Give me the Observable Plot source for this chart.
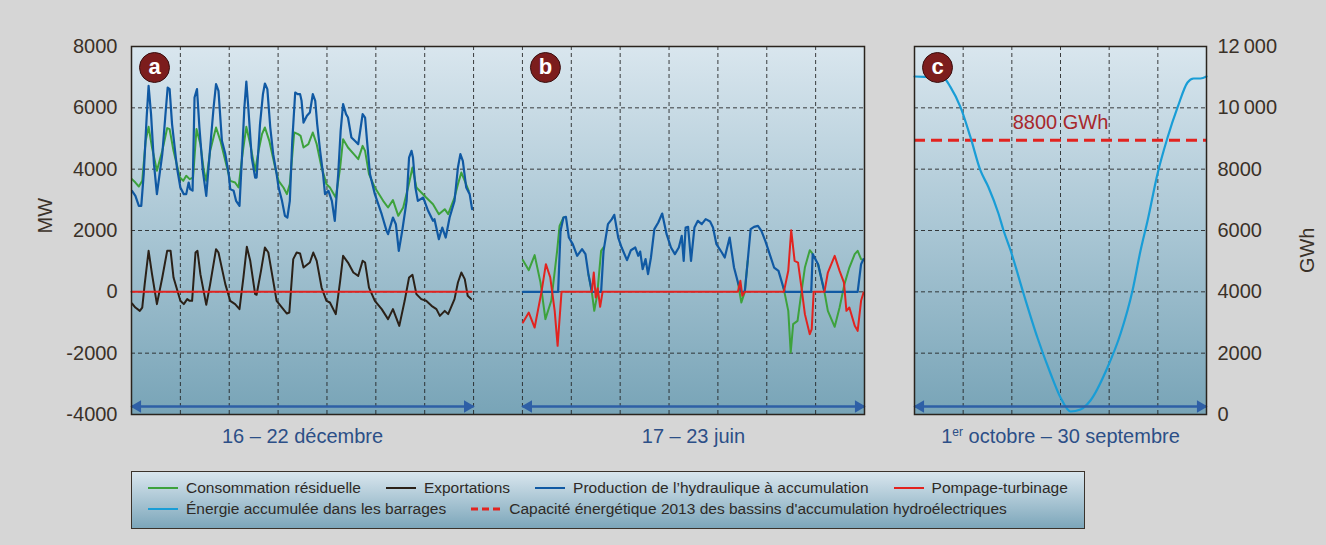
<!DOCTYPE html>
<html><head><meta charset="utf-8">
<script src="https://cdn.jsdelivr.net/npm/d3@7"></script>
<script src="https://cdn.jsdelivr.net/npm/@observablehq/plot@0.6"></script>
<style>
html,body{margin:0;padding:0;background:#d6d6d6;}
#wrap{position:relative;width:1326px;height:545px;background:#d6d6d6;font-family:"Liberation Sans",Arial,sans-serif;overflow:hidden}
#legend{position:absolute;left:131px;top:471px;width:952px;height:56px;border:1.5px solid #3a332c;background:linear-gradient(#d9e6ee,#7ca6ba);}
.row{position:absolute;left:16px;display:flex;gap:25px;font-size:15.5px;color:#2e2a26;white-space:nowrap;line-height:18px}
.row1{top:7px}.row2{top:28px}
.item{display:flex;align-items:center}
.item svg{margin-right:8px}
</style></head>
<body>
<svg width="0" height="0" style="position:absolute"><defs>
<linearGradient id="panelGrad" x1="0" y1="0" x2="0" y2="1"><stop offset="0" stop-color="#d9e6ee"/><stop offset="0.5" stop-color="#a9c6d4"/><stop offset="1" stop-color="#78a4b7"/></linearGradient>
</defs></svg>
<div id="wrap"><div id="legend"></div></div>
<script>
// ---------- DATA ----------
const yTicksMW = [-4000,-2000,0,2000,4000,6000,8000];
const yTicksGWh = [0,2000,4000,6000,8000,10000,12000];
const dayGrid = [1,2,3,4,5,6,7,8,9,10,11,12,13,14];
const monthGrid = [2,4,6,8,10];
const periodLabels = ["16 – 22 décembre", "17 – 23 juin"];
const periodCenters = [3.5, 11.5];
const periods = [{start:0,end:7},{start:8,end:15}];
const junOffset = 8;
const yearLabel = ["1", "er", " octobre – 30 septembre"];
const capacityGWh = 8940;
const capacityLabel = "8800 GWh";
const lettersLeft = [{x:0, letter:"a"},{x:8, letter:"b"}];
const lettersRight = [{x:0, letter:"c"}];

// December week (day, MW)
const decConso = [[0.01,3675],[0.08,3564],[0.15,3434],[0.22,3620],[0.29,4924],[0.35,5380],[0.42,4706],[0.52,3946],[0.63,4598],[0.73,5338],[0.78,5306],[0.86,4598],[0.99,3727],[1.06,3620],[1.12,3783],[1.19,3675],[1.26,3727],[1.33,5306],[1.41,4815],[1.48,3946],[1.53,3620],[1.61,4598],[1.73,5358],[1.82,4924],[1.92,4272],[2.02,3620],[2.12,3564],[2.19,3401],[2.28,4598],[2.35,5380],[2.43,4815],[2.53,3946],[2.60,4598],[2.67,5141],[2.73,5358],[2.82,4924],[2.94,4054],[3.01,3620],[3.11,3401],[3.18,3186],[3.24,3512],[3.33,5195],[3.41,5141],[3.46,5087],[3.52,4706],[3.62,4815],[3.71,5195],[3.79,4815],[3.89,4054],[3.99,3512],[4.06,3401],[4.18,3075],[4.27,4054],[4.33,4978],[4.43,4706],[4.55,4490],[4.64,4327],[4.73,4761],[4.78,4598],[4.86,3838],[4.98,3401],[5.15,2967],[5.25,2749],[5.35,2989],[5.46,2478],[5.56,2749],[5.66,3401],[5.75,4054],[5.83,3401],[5.93,3238],[6.03,3075],[6.17,2858],[6.29,2532],[6.41,2695],[6.48,2532],[6.61,3075],[6.68,3512],[6.75,3891],[6.82,3620],[6.90,3294]];
const decExport = [[0.01,-381],[0.08,-512],[0.17,-620],[0.22,-512],[0.27,251],[0.35,1337],[0.42,577],[0.52,-401],[0.63,466],[0.73,1337],[0.80,1337],[0.86,466],[1.00,-293],[1.07,-401],[1.14,-238],[1.19,-293],[1.24,-293],[1.31,1282],[1.35,1337],[1.41,577],[1.53,-424],[1.61,251],[1.73,1392],[1.78,1282],[1.92,251],[2.02,-293],[2.12,-401],[2.21,-564],[2.29,466],[2.36,1467],[2.43,1011],[2.53,-75],[2.56,-95],[2.65,685],[2.73,1445],[2.80,1282],[2.90,359],[2.97,-293],[3.08,-512],[3.18,-707],[3.23,-675],[3.31,1066],[3.38,1282],[3.45,1249],[3.52,793],[3.65,955],[3.72,1282],[3.79,1011],[3.89,140],[3.99,-293],[4.06,-348],[4.18,-727],[4.27,359],[4.33,1174],[4.43,955],[4.54,629],[4.64,522],[4.73,1011],[4.78,955],[4.86,140],[4.98,-293],[5.12,-564],[5.25,-890],[5.35,-564],[5.48,-1109],[5.59,-293],[5.68,466],[5.75,554],[5.83,-75],[5.93,-238],[6.03,-293],[6.14,-457],[6.24,-564],[6.31,-783],[6.41,-620],[6.48,-727],[6.61,-238],[6.68,303],[6.75,629],[6.82,414],[6.88,-130],[6.95,-238]];
const decProd = [[0.01,3294],[0.08,3130],[0.15,2804],[0.20,2804],[0.25,3838],[0.31,5684],[0.35,6718],[0.40,5795],[0.46,4164],[0.52,3186],[0.63,4490],[0.69,5684],[0.74,6662],[0.78,6610],[0.83,5469],[0.93,4054],[1.00,3401],[1.07,3186],[1.12,3186],[1.17,3564],[1.20,3349],[1.25,3300],[1.29,6336],[1.34,6610],[1.39,5358],[1.46,3946],[1.53,3130],[1.61,4706],[1.68,6010],[1.73,6773],[1.78,6555],[1.85,4924],[1.92,4490],[1.99,3838],[2.02,3349],[2.09,3294],[2.14,2967],[2.21,2804],[2.26,4380],[2.31,6010],[2.35,6858],[2.39,6010],[2.46,4380],[2.53,3727],[2.56,3727],[2.63,5469],[2.69,6447],[2.73,6793],[2.78,6610],[2.84,5358],[2.90,4490],[2.97,3838],[3.01,3401],[3.08,2967],[3.14,2478],[3.19,2423],[3.24,2967],[3.29,4924],[3.35,6499],[3.40,6447],[3.45,6447],[3.48,6228],[3.52,5520],[3.59,5739],[3.65,5846],[3.71,6447],[3.76,6228],[3.80,5469],[3.86,4598],[3.92,3838],[3.96,3186],[4.03,3294],[4.10,2967],[4.16,2315],[4.23,3838],[4.28,5250],[4.33,6121],[4.39,5795],[4.43,5684],[4.50,5032],[4.57,4924],[4.64,4815],[4.69,5358],[4.73,5795],[4.78,5684],[4.82,4924],[4.88,3838],[4.98,3186],[5.12,2532],[5.22,1989],[5.25,1880],[5.35,2423],[5.41,2206],[5.47,1337],[5.54,1989],[5.63,2967],[5.68,4380],[5.73,4598],[5.76,4380],[5.81,3401],[5.86,2967],[5.97,3075],[6.07,2641],[6.17,2315],[6.20,2370],[6.29,1718],[6.36,2097],[6.43,1771],[6.51,2423],[6.61,2967],[6.68,4054],[6.73,4490],[6.78,4272],[6.85,3401],[6.92,3186],[6.97,2695]];
const decPump = [[0,0],[6.96,0]];

// June week (day, MW)
const junConso = [[0.01,1033],[0.13,707],[0.25,1197],[0.37,300],[0.47,-890],[0.59,-293],[0.71,1337],[0.76,2152],[0.84,2423],[0.85,null],[1.35,577],[1.42,0],[1.47,-620],[1.53,-100],[1.61,1337],[1.66,1450],[1.67,null],[4.41,303],[4.48,-348],[4.55,0],[4.61,1011],[4.62,null],[5.33,196],[5.37,-75],[5.44,-620],[5.49,-1979],[5.54,-1054],[5.63,-946],[5.71,0],[5.78,793],[5.88,1358],[5.92,1282],[5.94,1229],[5.95,null],[6.05,902],[6.18,0],[6.25,-620],[6.39,-1141],[6.49,-512],[6.59,251],[6.69,793],[6.80,1229],[6.86,1337],[6.93,1066],[6.98,1033]];
const junProd = [[0.01,0],[0.73,0],[0.78,1989],[0.84,2423],[0.89,2445],[0.95,1771],[1.03,1554],[1.12,1174],[1.22,1392],[1.29,1229],[1.35,577],[1.42,0],[1.61,0],[1.66,1337],[1.75,2206],[1.83,2370],[1.88,2511],[1.96,1771],[2.03,1445],[2.14,1033],[2.22,1358],[2.31,1445],[2.37,1174],[2.41,1314],[2.46,740],[2.52,1066],[2.57,577],[2.63,1120],[2.70,2043],[2.78,2260],[2.86,2553],[2.95,1880],[3.04,1445],[3.12,1229],[3.20,1445],[3.26,1826],[3.30,1011],[3.34,2097],[3.39,2119],[3.45,1011],[3.52,2097],[3.59,2315],[3.67,2206],[3.75,2370],[3.84,2293],[3.90,2097],[3.97,1554],[4.08,1282],[4.14,1120],[4.24,1771],[4.33,793],[4.41,303],[4.48,0],[4.55,0],[4.61,1011],[4.67,2043],[4.74,2119],[4.82,2152],[4.89,1989],[4.97,1663],[5.06,1229],[5.15,793],[5.24,685],[5.33,196],[5.37,0],[5.91,0],[5.94,1229],[6.05,902],[6.18,0],[6.86,0],[6.93,902],[6.98,1066]];
const junPump = [[0.01,-1001],[0.13,-675],[0.25,-1164],[0.39,0],[0.48,902],[0.57,466],[0.66,-620],[0.72,-1761],[0.80,0],[1.42,0],[1.46,629],[1.50,-185],[1.54,120],[1.59,-489],[1.64,0],[4.41,0],[4.46,359],[4.50,-130],[4.55,0],[5.35,0],[5.44,685],[5.50,2012],[5.57,1011],[5.64,955],[5.71,140],[5.78,-727],[5.88,-1380],[5.92,-1217],[5.96,0],[6.18,0],[6.25,629],[6.39,1174],[6.49,685],[6.58,303],[6.63,-620],[6.69,-512],[6.80,-1109],[6.86,-1272],[6.93,-293],[6.98,-22]];

// Hydrological year (month since 1 Oct, GWh)
const energyGWh = [[0,11022],[0.6,11000],[1.19,10980],[1.48,10673],[1.89,10021],[2.30,9043],[2.71,7957],[3.04,7412],[3.45,6555],[3.66,6000],[3.95,5348],[4.48,3946],[5.05,2511],[5.59,1337],[6.0,554],[6.41,98],[6.82,163],[7.23,457],[7.93,1533],[8.47,2641],[8.96,4044],[9.29,5348],[9.58,6326],[9.99,7859],[10.4,9033],[10.81,10011],[11.22,10826],[11.47,10957],[11.75,10957],[12,11022]];

const legendRow1 = ["Consommation résiduelle","Exportations","Production de l’hydraulique à accumulation","Pompage-turbinage"];
const legendRow2 = ["Énergie accumulée dans les barrages","Capacité énergétique 2013 des bassins d'accumulation hydroélectriques"];

// ---------- STYLES ----------
const C = {green:"#3da23c", black:"#2b2118", blue:"#1059a3", red:"#e2231f", light:"#199dd6", cap:"#e2231f",
  grid:"#1e1e1e", arrow:"#2e5fa6", badge:"#7c1d1d", period:"#2c4f87", text:"#3a3128", capText:"#a8282c"};
const FONT = "Liberation Sans, Arial, sans-serif";
const W = 1326, H = 460, MT = 46, MB = 46;
const dash = "4,3";

function arrowMarks(data, yBase) {
  return [
    Plot.link(data, {x1:"start", x2:"end", y1:() => yBase, y2:() => yBase, dy:-8, stroke:C.arrow, strokeWidth:2.5}),
    Plot.dot(data, {x:"start", y:() => yBase, dy:-8, dx:6, symbol:"triangle", rotate:-90, r:4.6, fill:C.arrow, stroke:"none"}),
    Plot.dot(data, {x:"end", y:() => yBase, dy:-8, dx:-6, symbol:"triangle", rotate:90, r:4.6, fill:C.arrow, stroke:"none"})
  ];
}
function badgeMarks(data) {
  return [
    Plot.dot(data, {x:"x", frameAnchor:"top", dx:23, dy:21, r:15, fill:C.badge, stroke:"#3a1010", strokeWidth:1}),
    Plot.text(data, {x:"x", frameAnchor:"top", lineAnchor:"middle", dx:23, dy:20, text:"letter", fill:"white", fontWeight:"bold", fontSize:22})
  ];
}
const xy = (off=0) => ({x: d => off + d[0], y: d => d[1]});

const left = Plot.plot({
  width:W, height:H, marginLeft:131, marginRight:W-864, marginTop:MT, marginBottom:MB,
  x:{domain:[0,15], axis:null},
  y:{domain:[yTicksMW[0], yTicksMW[yTicksMW.length-1]], axis:null},
  style:{background:"transparent", fontFamily:FONT, color:C.text, overflow:"visible"},
  marks:[
    Plot.frame({fill:"url(#panelGrad)"}),
    Plot.ruleX(dayGrid, {stroke:C.grid, strokeDasharray:dash, strokeWidth:1, strokeOpacity:0.85}),
    Plot.ruleY(yTicksMW.slice(1,-1), {stroke:C.grid, strokeDasharray:dash, strokeWidth:1, strokeOpacity:0.85}),
    Plot.line(decConso, {...xy(), stroke:C.green, strokeWidth:2}),
    Plot.line(junConso, {...xy(junOffset), stroke:C.green, strokeWidth:2}),
    Plot.line(decExport, {...xy(), stroke:C.black, strokeWidth:2}),
    Plot.line(decProd, {...xy(), stroke:C.blue, strokeWidth:2.2}),
    Plot.line(junProd, {...xy(junOffset), stroke:C.blue, strokeWidth:2.2}),
    Plot.line(decPump, {...xy(), stroke:C.red, strokeWidth:2}),
    Plot.line(junPump, {...xy(junOffset), stroke:C.red, strokeWidth:2}),
    ...arrowMarks(periods, yTicksMW[0]),
    ...badgeMarks(lettersLeft),
    Plot.text(periodCenters, {x:d => d, text:(d,i) => periodLabels[i], frameAnchor:"bottom", lineAnchor:"middle", dy:22, fontSize:20, fill:C.period}),
    Plot.text(["MW"], {text:d => d, frameAnchor:"left", dx:-86, dy:3, rotate:-90, fontSize:20, fill:C.text}),
    Plot.axisY({ticks:yTicksMW, tickSize:0, tickPadding:14, fontSize:20, tickFormat:d => String(d), label:null}),
    Plot.frame({stroke:"#2a241e", strokeWidth:1.5})
  ]
});

const fmtGWh = d => d >= 10000 ? d3.format(",")(d).replace(",", "\u2009") : String(d);
const right = Plot.plot({
  width:W, height:H, marginLeft:914, marginRight:W-1206, marginTop:MT, marginBottom:MB,
  x:{domain:[0,12], axis:null},
  y:{domain:[yTicksGWh[0], yTicksGWh[yTicksGWh.length-1]], axis:null},
  style:{background:"transparent", fontFamily:FONT, color:C.text, overflow:"visible"},
  marks:[
    Plot.frame({fill:"url(#panelGrad)"}),
    Plot.ruleX(monthGrid, {stroke:C.grid, strokeDasharray:dash, strokeWidth:1, strokeOpacity:0.85}),
    Plot.ruleY(yTicksGWh.slice(1,-1), {stroke:C.grid, strokeDasharray:dash, strokeWidth:1, strokeOpacity:0.85}),
    Plot.ruleY([capacityGWh], {stroke:C.cap, strokeWidth:3, strokeDasharray:"11,6"}),
    Plot.text([capacityLabel], {text:d => d, x:() => 6, y:() => capacityGWh, dy:-18, fontSize:20, fill:C.capText}),
    Plot.line(energyGWh, {...xy(), stroke:C.light, strokeWidth:2.2, curve:"monotone-x"}),
    ...arrowMarks([{start:0,end:12}], yTicksGWh[0]),
    ...badgeMarks(lettersRight),
    Plot.text([yearLabel.join("")], {text:d => d, x:() => 6, frameAnchor:"bottom", lineAnchor:"middle", dy:22, fontSize:20, fill:C.period}),
    Plot.text(["GWh"], {text:d => d, frameAnchor:"right", dx:101, dy:-3, rotate:-90, fontSize:20, fill:C.text}),
    Plot.axisY({ticks:yTicksGWh, anchor:"right", tickSize:0, tickPadding:11, fontSize:20, tickFormat:fmtGWh, label:null}),
    Plot.frame({stroke:"#2a241e", strokeWidth:1.5})
  ]
});

// superscript "er"
right.querySelectorAll("text").forEach(t => {
  if (t.textContent === yearLabel.join("")) {
    t.textContent = "";
    const ns = "http://www.w3.org/2000/svg";
    const a = document.createElementNS(ns, "tspan"); a.textContent = yearLabel[0];
    const b = document.createElementNS(ns, "tspan"); b.textContent = yearLabel[1]; b.setAttribute("dy", "-7"); b.setAttribute("font-size", "12");
    const c = document.createElementNS(ns, "tspan"); c.textContent = yearLabel[2]; c.setAttribute("dy", "7");
    t.append(a, b, c);
  }
});

const wrap = document.getElementById("wrap");
[left, right].forEach(p => { p.style.position = "absolute"; p.style.left = "0"; p.style.top = "0"; wrap.appendChild(p); });

// legend
const legend = document.getElementById("legend");
function swatch(color, dashed) {
  return `<svg width="30" height="6"><line x1="0" x2="30" y1="3" y2="3" stroke="${color}" stroke-width="${dashed ? 3 : 2}" ${dashed ? 'stroke-dasharray="7,4"' : ''}/></svg>`;
}
const row1Colors = [C.green, C.black, C.blue, C.red];
const row2Colors = [C.light, C.cap];
const r1 = document.createElement("div"); r1.className = "row row1";
r1.innerHTML = legendRow1.map((l,i) => `<div class="item">${swatch(row1Colors[i], false)}<span>${l}</span></div>`).join("");
const r2 = document.createElement("div"); r2.className = "row row2";
r2.innerHTML = legendRow2.map((l,i) => `<div class="item">${swatch(row2Colors[i], i===1)}<span>${l}</span></div>`).join("");
legend.append(r1, r2);
</script>
</body></html>
